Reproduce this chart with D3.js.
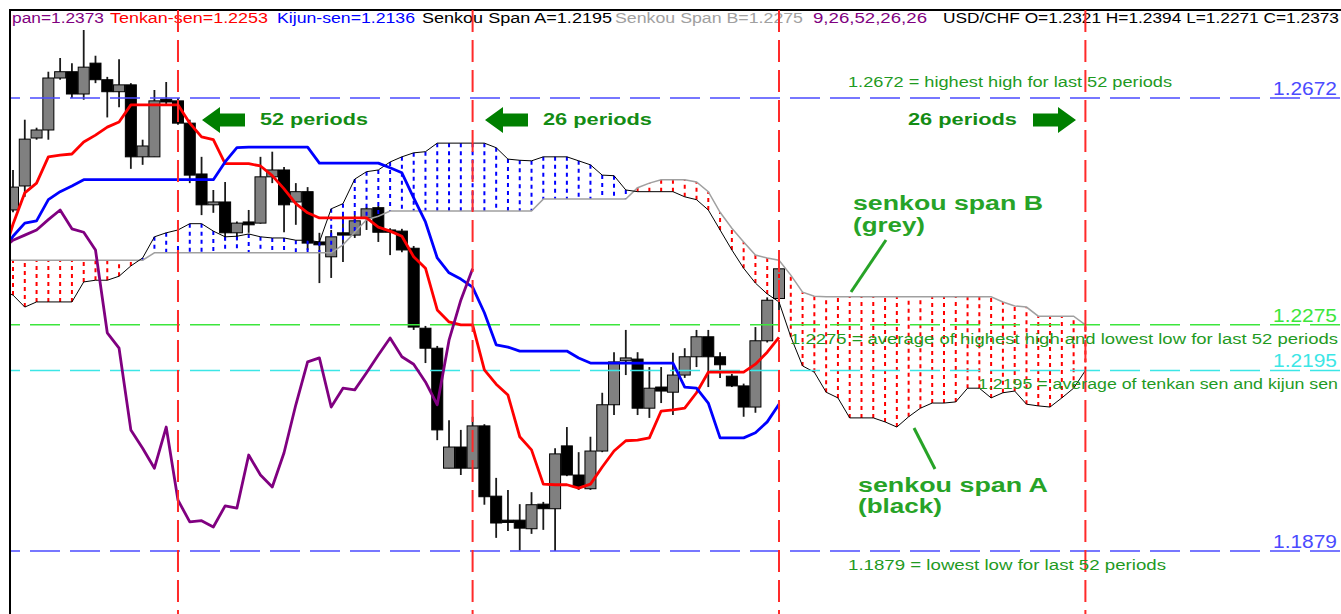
<!DOCTYPE html>
<html>
<head>
<meta charset="utf-8">
<script src="https://cdn.jsdelivr.net/npm/d3@7"></script>
<style>
body { margin: 0; background: #fff; }
svg { display: block; font-family: "Liberation Sans", Arial, sans-serif; }
</style>
</head>
<body>
<svg id="chart" width="1341" height="614"></svg>
<script>
// USD/CHF candles, bar 0 .. 65 (last bar = current)
var candleOpen = [1.2476,1.2518,1.2602,1.2616,1.2707,1.2718,1.2679,1.2733,1.2704,1.2683,
	1.2695,1.2569,1.2569,1.2670,1.2667,1.2628,1.2539,1.2485,1.2490,1.2436,
	1.2455,1.2453,1.2534,1.2546,1.2490,1.2508,1.2420,1.2394,1.2436,1.2432,
	1.2462,1.2480,1.2441,1.2439,1.2409,1.2269,1.2234,1.2024,1.2061,1.2024,
	1.2098,1.1975,1.1933,1.1933,1.1918,1.1961,1.1953,1.2063,1.2012,1.1988,
	1.2054,1.2135,1.2212,1.2215,1.2129,1.2166,1.2157,1.2187,1.2219,1.2254,
	1.2219,1.2185,1.2168,1.2131,1.2247,1.2321];
var candleHigh = [1.2546,1.2634,1.2620,1.2718,1.2742,1.2733,1.2791,1.2746,1.2709,1.2740,
	1.2698,1.2599,1.2686,1.2700,1.2672,1.2634,1.2569,1.2511,1.2525,1.2456,
	1.2476,1.2569,1.2578,1.2551,1.2523,1.2516,1.2436,1.2441,1.2467,1.2467,
	1.2481,1.2483,1.2444,1.2443,1.2413,1.2273,1.2238,1.2108,1.2091,1.2114,
	1.2101,1.2007,1.1986,1.1961,1.1982,1.1965,1.2059,1.2096,1.2052,1.2079,
	1.2156,1.2227,1.2266,1.2227,1.2201,1.2201,1.2226,1.2234,1.2266,1.2266,
	1.2227,1.2189,1.2172,1.2271,1.2323,1.2394];
var candleLow = [1.2472,1.2499,1.2599,1.2599,1.2704,1.2672,1.2669,1.2698,1.2638,1.2656,
	1.2548,1.2555,1.2569,1.2660,1.2625,1.2523,1.2467,1.2471,1.2423,1.2423,
	1.2436,1.2452,1.2523,1.2437,1.2450,1.2406,1.2348,1.2357,1.2385,1.2427,
	1.2441,1.2420,1.2397,1.2402,1.2266,1.2208,1.2073,1.2024,1.2012,1.2024,
	1.1960,1.1902,1.1914,1.1880,1.1909,1.1916,1.1879,1.2010,1.1986,1.1986,
	1.2052,1.2117,1.2187,1.2117,1.2112,1.2138,1.2117,1.2182,1.2201,1.2166,
	1.2182,1.2166,1.2114,1.2121,1.2244,1.2271];
var candleClose = [1.2516,1.2600,1.2616,1.2707,1.2718,1.2679,1.2726,1.2704,1.2683,1.2695,
	1.2569,1.2588,1.2667,1.2665,1.2628,1.2537,1.2485,1.2490,1.2436,1.2453,
	1.2450,1.2534,1.2546,1.2485,1.2508,1.2418,1.2415,1.2429,1.2432,1.2457,
	1.2478,1.2437,1.2437,1.2406,1.2271,1.2234,1.2091,1.2061,1.2024,1.2098,
	1.1974,1.1928,1.1929,1.1919,1.1960,1.1953,1.2049,1.2012,1.1991,1.2054,
	1.2135,1.2210,1.2217,1.2129,1.2164,1.2159,1.2187,1.2219,1.2254,1.2219,
	1.2205,1.2168,1.2131,1.2247,1.2318,1.2373];

// indicator lines, first value belongs to bar -1
var tenkan = [1.2385,1.2451,1.2506,1.2523,1.2569,1.2572,1.2574,1.2595,1.2607,1.2621,1.2630,
	1.2660,1.2660,1.2660,1.2660,1.2660,1.2628,1.2604,1.2599,1.2557,1.2557,
	1.2557,1.2553,1.2536,1.2513,1.2487,1.2471,1.2462,1.2462,1.2462,1.2462,
	1.2462,1.2446,1.2439,1.2430,1.2394,1.2374,1.2301,1.2280,1.2275,1.2275,
	1.2196,1.2171,1.2152,1.2079,1.2056,1.1996,1.1995,1.1995,1.1989,1.1996,
	1.2026,1.2054,1.2072,1.2073,1.2077,1.2124,1.2126,1.2129,1.2156,1.2192,
	1.2192,1.2192,1.2192,1.2206,1.2227,1.2253];
var kijun = [1.2397,1.2430,1.2453,1.2457,1.2494,1.2508,1.2518,1.2529,1.2529,1.2529,1.2529,
	1.2529,1.2529,1.2529,1.2529,1.2529,1.2529,1.2529,1.2529,1.2560,1.2585,
	1.2586,1.2586,1.2586,1.2586,1.2586,1.2586,1.2558,1.2558,1.2558,1.2558,
	1.2558,1.2558,1.2550,1.2541,1.2497,1.2455,1.2392,1.2366,1.2355,1.2341,
	1.2296,1.2240,1.2236,1.2229,1.2229,1.2229,1.2229,1.2229,1.2217,1.2208,
	1.2208,1.2208,1.2208,1.2208,1.2208,1.2208,1.2208,1.2166,1.2164,1.2138,
	1.2077,1.2077,1.2077,1.2086,1.2105,1.2136];
var chikou = [1.2406,1.2423,1.2432,1.2441,1.2459,1.2476,1.2443,1.2437,1.2406,1.2261,1.2234,
	1.2091,1.2059,1.2024,1.2096,1.1968,1.1930,1.1932,1.1921,1.1958,1.1954,
	1.2047,1.2012,1.1991,1.2051,1.2135,1.2210,1.2217,1.2131,1.2164,1.2161,
	1.2191,1.2222,1.2252,1.2219,1.2206,1.2175,1.2135,1.2248,1.2318,1.2373];
// cloud, bar -1 .. 91
var senkouA = [1.2336,1.2327,1.2306,1.2315,1.2315,1.2315,1.2315,1.2350,1.2353,1.2353,1.2360,
	1.2378,1.2392,1.2429,1.2436,1.2441,1.2452,1.2452,1.2439,1.2429,1.2430,
	1.2434,1.2429,1.2427,1.2427,1.2423,1.2423,1.2420,1.2478,1.2487,1.2530,
	1.2543,1.2546,1.2560,1.2569,1.2576,1.2578,1.2593,1.2593,1.2593,1.2593,
	1.2593,1.2585,1.2565,1.2563,1.2562,1.2569,1.2569,1.2569,1.2562,1.2555,
	1.2537,1.2536,1.2511,1.2508,1.2508,1.2508,1.2508,1.2499,1.2494,1.2476,
	1.2441,1.2406,1.2374,1.2348,1.2329,1.2315,1.2254,1.2203,1.2192,1.2157,
	1.2147,1.2112,1.2112,1.2112,1.2105,1.2096,1.2114,1.2129,1.2138,1.2138,
	1.2140,1.2164,1.2164,1.2147,1.2156,1.2159,1.2136,1.2133,1.2131,1.2147,
	1.2164,1.2195];
var senkouB = [1.2388,1.2388,1.2388,1.2388,1.2388,1.2388,1.2388,1.2388,1.2388,1.2388,1.2388,
	1.2388,1.2388,1.2401,1.2401,1.2401,1.2401,1.2401,1.2401,1.2401,1.2401,
	1.2401,1.2401,1.2401,1.2401,1.2401,1.2401,1.2401,1.2401,1.2415,1.2437,
	1.2459,1.2465,1.2474,1.2474,1.2474,1.2474,1.2474,1.2474,1.2474,1.2474,
	1.2474,1.2474,1.2474,1.2474,1.2474,1.2495,1.2495,1.2495,1.2495,1.2495,
	1.2495,1.2495,1.2495,1.2515,1.2523,1.2529,1.2529,1.2529,1.2525,1.2508,
	1.2472,1.2444,1.2420,1.2397,1.2392,1.2388,1.2362,1.2332,1.2325,1.2324,
	1.2324,1.2324,1.2324,1.2324,1.2324,1.2324,1.2324,1.2324,1.2324,1.2324,
	1.2324,1.2324,1.2324,1.2324,1.2315,1.2308,1.2306,1.2290,1.2290,1.2290,
	1.2290,1.2275];

var levels = [1.2672, 1.2275, 1.2195, 1.1879];
var levelLabels = ["1.2672", "1.2275", "1.2195", "1.1879"];
var markerBars = [14, 39, 65, 91];

var width = 1341, height = 614;
var svg = d3.select("#chart");

var x = d3.scaleLinear().domain([0, 65]).range([13, 779]); //bar index -> pixel
var y = d3.scaleLinear().domain([1.1879, 1.2672]).range([551, 98]); //price -> pixel

svg.append("clipPath").attr("id", "plot")
	.append("rect").attr("x", 10).attr("y", 10).attr("width", width - 10).attr("height", height - 10);
var plot = svg.append("g").attr("clip-path", "url(#plot)");

//candles
var candles = candleOpen.map(function(o, i) {
	return {i: i, o: o, h: candleHigh[i], l: candleLow[i], c: candleClose[i]};
});
plot.selectAll(".wick").data(candles).enter().append("line")
	.attr("x1", d => x(d.i)).attr("x2", d => x(d.i))
	.attr("y1", d => y(d.h)).attr("y2", d => y(d.l))
	.attr("stroke", "#1a1a1a").attr("stroke-width", 1.8);
plot.selectAll(".body").data(candles).enter().append("rect")
	.attr("x", d => x(d.i) - 5.5)
	.attr("y", d => y(Math.max(d.o, d.c)))
	.attr("width", 11)
	.attr("height", d => Math.max(1.5, Math.abs(y(d.o) - y(d.c))))
	.attr("fill", d => d.c >= d.o ? "#808080" : "#000")
	.attr("stroke", "#000").attr("stroke-width", 1);

//cloud hatching
var cloud = senkouA.map(function(a, k) { return {i: k - 1, a: a, b: senkouB[k]}; });
plot.selectAll(".hatch").data(cloud).enter().append("line")
	.attr("x1", d => x(d.i)).attr("x2", d => x(d.i))
	.attr("y1", d => y(d.a)).attr("y2", d => y(d.b))
	.attr("stroke", d => d.a > d.b ? "#0000ff" : "#ff0000")
	.attr("stroke-width", 2).attr("stroke-dasharray", "4,4");
plot.append("path").datum(cloud)
	.attr("d", d3.line().x(d => x(d.i)).y(d => y(d.b)))
	.attr("fill", "none").attr("stroke", "#a0a0a0").attr("stroke-width", 1.5);
plot.append("path").datum(cloud)
	.attr("d", d3.line().x(d => x(d.i)).y(d => y(d.a)))
	.attr("fill", "none").attr("stroke", "#000").attr("stroke-width", 1);

//horizontal levels
var levelColor = ["#4b4bff", "#3ce63c", "#3ce6e6", "#4b4bff"];
plot.selectAll(".level").data(levels).enter().append("line")
	.attr("x1", -10).attr("x2", width)
	.attr("y1", d => y(d)).attr("y2", d => y(d))
	.attr("stroke", (d, i) => levelColor[i]).attr("stroke-width", 1.5)
	.attr("stroke-dasharray", "30,10");
svg.selectAll(".levelLabel").data(levels).enter().append("text")
	.attr("x", 1273).attr("y", d => y(d) - 3)
	.attr("fill", (d, i) => levelColor[i])
	.style("font-size", "18px")
	.attr("textLength", 64).attr("lengthAdjust", "spacingAndGlyphs")
	.text((d, i) => levelLabels[i]);

//ichimoku lines
function series(values, start) {
	return values.map(function(v, k) { return {i: k + start, v: v}; });
}
var line = d3.line().x(d => x(d.i)).y(d => y(d.v));
[[tenkan, "#ff0000"], [kijun, "#0000ff"], [chikou, "#800080"]].forEach(function(s) {
	plot.append("path").datum(series(s[0], -1))
		.attr("d", line)
		.attr("fill", "none").attr("stroke", s[1]).attr("stroke-width", 2.8)
		.attr("stroke-linejoin", "round");
});

//header (left part of the first entry is off the picture in the original)
var head = svg.append("g").style("font-size", "14px");
function headText(s, x0, w, fill) {
	return head.append("text").attr("x", x0).attr("y", 23).attr("fill", fill)
		.attr("textLength", w).attr("lengthAdjust", "spacingAndGlyphs").text(s);
}
headText("pan=1.2373", 12, 92, "#800080");
headText("Tenkan-sen=1.2253", 110, 158, "#ff0000");
headText("Kijun-sen=1.2136", 277, 138, "#0000ff");
headText("Senkou Span A=1.2195", 422, 190, "#000");
headText("Senkou Span B=1.2275", 615, 188, "#a0a0a0");
headText("9,26,52,26,26", 813, 114, "#800080");
headText("USD/CHF O=1.2321 H=1.2394 L=1.2271 C=1.2373", 943, 396, "#000");

//frame
svg.append("path").attr("d", "M10," + height + "V10H" + width)
	.attr("fill", "none").attr("stroke", "#000").attr("stroke-width", 2);

//red markers
svg.selectAll(".marker").data(markerBars).enter().append("line")
	.attr("x1", d => x(d)).attr("x2", d => x(d))
	.attr("y1", 10).attr("y2", height)
	.attr("stroke", "#ff2a2a").attr("stroke-width", 2)
	.attr("stroke-dasharray", "22,8");

//annotations
var notes = svg.append("g").attr("clip-path", "url(#plot)");
function note(s, x0, yb, w, size, weight, fill) {
	notes.append("text").attr("x", x0).attr("y", yb)
		.attr("fill", fill).style("font-size", size + "px").style("font-weight", weight)
		.attr("textLength", w).attr("lengthAdjust", "spacingAndGlyphs").text(s);
}
var small = "#1f9a1f", big = "#148c14", label = "#27a327";
note("1.2672 = highest high for last 52 periods", 848, 87, 324, 14, "normal", small);
note("1.2275 = average of highest high and lowest low for last 52 periods", 790, 344, 548, 14, "normal", small);
note("1.2195 = average of tenkan sen and kijun sen", 978, 389, 360, 14, "normal", small);
note("1.1879 = lowest low for last 52 periods", 848, 570, 318, 14, "normal", small);
note("52 periods", 260, 125, 108, 17, "bold", big);
note("26 periods", 543, 125, 109, 17, "bold", big);
note("26 periods", 908, 125, 109, 17, "bold", big);
note("senkou span B", 853, 210, 190, 20, "bold", label);
note("(grey)", 853, 232, 72, 20, "bold", label);
note("senkou span A", 858, 492, 190, 20, "bold", label);
note("(black)", 858, 513, 84, 20, "bold", label);

function arrow(tip, dir) {
	var p = [[0, 0], [18, -13], [18, -6.5], [43, -6.5], [43, 6.5], [18, 6.5], [18, 13]];
	notes.append("polygon")
		.attr("points", p.map(q => (tip + dir * q[0]) + "," + (120 + q[1])).join(" "))
		.attr("fill", "#007f00");
}
arrow(202, 1);
arrow(485, 1);
arrow(1076, -1);

notes.append("line").attr("x1", 886).attr("y1", 240).attr("x2", 851).attr("y2", 292)
	.attr("stroke", label).attr("stroke-width", 3);
notes.append("line").attr("x1", 914).attr("y1", 428).attr("x2", 935).attr("y2", 469)
	.attr("stroke", label).attr("stroke-width", 3);
</script>
</body>
</html>
